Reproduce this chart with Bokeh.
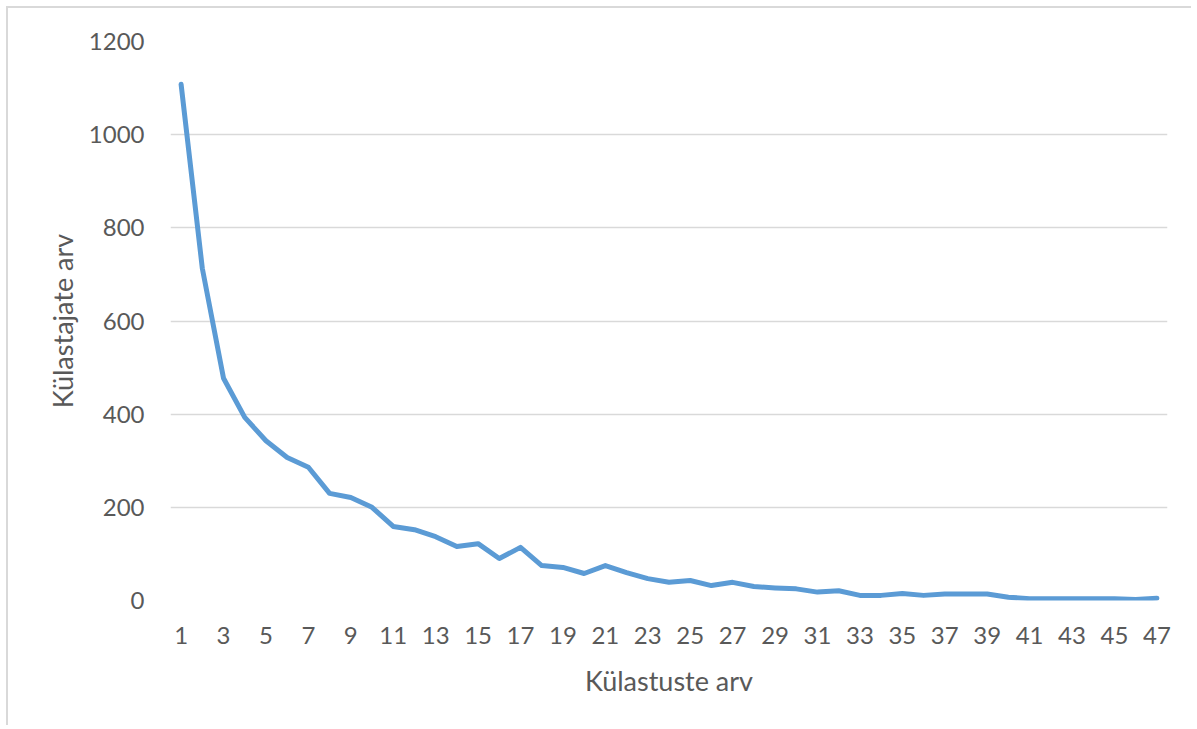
from bokeh.plotting import figure
from bokeh.models import Range1d, FixedTicker, ColumnDataSource
from bokeh.embed import file_html
from bokeh.resources import INLINE

visits = list(range(1, 48))
visitors = [1108, 713, 477, 393, 343, 307, 286, 230, 221, 200,
            159, 152, 137, 116, 122, 90, 114, 75, 71, 58,
            75, 60, 47, 39, 43, 32, 39, 30, 27, 25,
            18, 21, 11, 11, 15, 11, 14, 14, 14, 7,
            4, 4, 4, 4, 4, 2, 5]
x_ticks = list(range(1, 48, 2))
y_ticks = [0, 200, 400, 600, 800, 1000, 1200]
x_title = "Külastuste arv"
y_title = "Külastajate arv"

FONT = "Lato"
TXT = "#595959"
GRID = "#d9d9d9"

src = ColumnDataSource(dict(x=visits, y=visitors))

p = figure(width=1185, height=719, output_backend="svg", toolbar_location=None,
           x_range=Range1d(0.5, 47.5), y_range=Range1d(0, 1200),
           min_border_left=162, min_border_right=26,
           min_border_top=33, min_border_bottom=127)
p.styles = {"border-left": "2px solid #d9d9d9", "border-top": "2px solid #d9d9d9",
            "margin-left": "6px", "margin-top": "6px"}
p.outline_line_color = None

p.line("x", "y", source=src, line_color="#5b9bd5", line_width=5,
       line_cap="round", line_join="round")

p.xaxis.ticker = FixedTicker(ticks=x_ticks)
p.yaxis.ticker = FixedTicker(ticks=y_ticks)
p.xgrid.grid_line_color = None
p.ygrid.grid_line_color = GRID
p.ygrid.grid_line_width = 1.5

for ax in (p.xaxis, p.yaxis):
    ax.axis_line_color = None
    ax.major_tick_line_color = None
    ax.minor_tick_line_color = None
    ax.major_label_text_font = FONT
    ax.major_label_text_font_size = "24px"
    ax.major_label_text_color = TXT
    ax.axis_label_text_font = FONT
    ax.axis_label_text_font_size = "27px"
    ax.axis_label_text_font_style = "normal"
    ax.axis_label_text_color = TXT

p.xaxis.axis_label = x_title
p.yaxis.axis_label = y_title
p.xaxis.major_label_standoff = 20
p.yaxis.major_label_standoff = 20
p.xaxis.axis_label_standoff = 17
p.yaxis.axis_label_standoff = 7

open("out.html", "w").write(file_html(p, INLINE))
